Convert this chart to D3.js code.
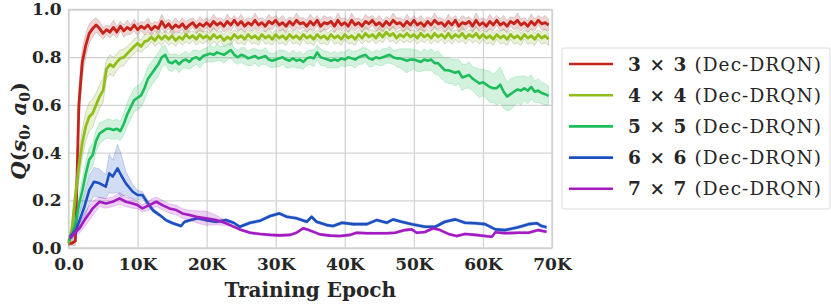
<!DOCTYPE html>
<html><head><meta charset="utf-8">
<script src="https://cdn.jsdelivr.net/npm/d3@7"></script>
<style>body{margin:0;background:#fff}svg{display:block}</style>
</head><body><svg id="c" width="831" height="304"></svg>
<script>
// ---------- data (epochs in thousands) ----------
const xTicks = [0,10,20,30,40,50,60,70];
const xTickLabels = ["0.0","10K","20K","30K","40K","50K","60K","70K"];
const yTicks = [0,0.2,0.4,0.6,0.8,1.0];
const yTickLabels = ["0.0","0.2","0.4","0.6","0.8","1.0"];
const seriesNames = ["3 \u00d7 3","4 \u00d7 4","5 \u00d7 5","6 \u00d7 6","7 \u00d7 7"];
const seriesColors = ["#c4221a","#90bd1c","#1dbd5c","#1c4fc0","#a31cc2"];

const epochs = [0,0.5,1,1.5,2,2.5,3,3.5,4,4.5,5,5.5,6,6.5,7,7.5,8,8.5,9,9.5,
 10,10.5,11,11.5,12,12.5,13,13.5,14,14.5,15,15.5,16,16.5,17,17.5,18,18.5,19,19.5,
 20,20.5,21,21.5,22,22.5,23,23.5,24,24.5,25,25.5,26,26.5,27,27.5,28,28.5,29,29.5,
 30,30.5,31,31.5,32,32.5,33,33.5,34,34.5,35,35.5,36,36.5,37,37.5,38,38.5,39,39.5,
 40,40.5,41,41.5,42,42.5,43,43.5,44,44.5,45,45.5,46,46.5,47,47.5,48,48.5,49,49.5,
 50,50.5,51,51.5,52,52.5,53,53.5,54,54.5,55,55.5,56,56.5,57,57.5,58,58.5,59,59.5,
 60,60.5,61,61.5,62,62.5,63,63.5,64,64.5,65,65.5,66,66.5,67,67.5,68,68.5,69,69.5];

const mean3 = [0.02,0.02,0.03,0.60,0.78,0.85,0.90,0.92,0.935,0.92,
 0.90,0.915,0.905,0.925,0.905,0.93,0.91,0.925,0.915,0.935,
 0.915,0.93,0.92,0.935,0.915,0.93,0.92,0.95,0.925,0.94,
 0.92,0.935,0.925,0.94,0.92,0.935,0.945,0.925,0.94,0.93,
 0.945,0.93,0.95,0.935,0.945,0.93,0.95,0.935,0.955,0.935,
 0.95,0.93,0.945,0.935,0.955,0.935,0.945,0.93,0.95,0.94,
 0.955,0.935,0.945,0.93,0.95,0.935,0.955,0.94,0.945,0.93,
 0.95,0.935,0.955,0.93,0.945,0.94,0.95,0.93,0.955,0.935,
 0.945,0.93,0.955,0.935,0.945,0.93,0.95,0.94,0.955,0.935,
 0.945,0.93,0.95,0.935,0.955,0.94,0.945,0.93,0.95,0.935,
 0.955,0.935,0.945,0.93,0.95,0.935,0.955,0.94,0.945,0.93,
 0.95,0.935,0.955,0.93,0.945,0.94,0.95,0.93,0.955,0.935,
 0.945,0.93,0.95,0.935,0.955,0.935,0.945,0.93,0.95,0.94,
 0.955,0.935,0.945,0.93,0.95,0.935,0.955,0.94,0.945,0.935];
const spread3 = [0.01,0.01,0.02,0.08,0.06,0.05,0.04,0.035,0.03,0.03,
 0.025,0.02,0.025,0.03,0.025,0.02,0.025,0.03,0.02,0.025,
 0.025,0.02,0.025,0.03,0.025,0.02,0.025,0.03,0.025,0.02,
 0.025,0.03,0.02,0.025,0.03,0.025,0.02,0.025,0.03,0.025,
 0.02,0.025,0.03,0.025,0.02,0.025,0.03,0.025,0.02,0.025,
 0.03,0.025,0.02,0.025,0.03,0.025,0.02,0.025,0.03,0.025,
 0.02,0.025,0.03,0.025,0.02,0.025,0.03,0.025,0.02,0.025,
 0.03,0.025,0.02,0.025,0.03,0.025,0.02,0.025,0.03,0.025,
 0.02,0.025,0.03,0.025,0.02,0.025,0.03,0.025,0.02,0.025,
 0.03,0.025,0.02,0.025,0.03,0.025,0.02,0.025,0.03,0.025,
 0.02,0.025,0.03,0.025,0.02,0.025,0.03,0.025,0.02,0.025,
 0.03,0.025,0.02,0.025,0.03,0.025,0.02,0.025,0.03,0.025,
 0.02,0.025,0.03,0.025,0.02,0.025,0.03,0.025,0.02,0.025,
 0.03,0.025,0.02,0.025,0.03,0.025,0.02,0.025,0.03,0.025];

const mean4 = [0.02,0.08,0.22,0.34,0.44,0.51,0.55,0.565,0.60,0.635,
 0.66,0.75,0.77,0.76,0.78,0.795,0.80,0.815,0.83,0.845,
 0.858,0.845,0.865,0.87,0.885,0.87,0.89,0.875,0.89,0.875,
 0.89,0.87,0.885,0.875,0.895,0.88,0.89,0.875,0.895,0.88,
 0.89,0.875,0.895,0.88,0.89,0.87,0.885,0.875,0.895,0.88,
 0.89,0.875,0.895,0.88,0.89,0.875,0.895,0.88,0.89,0.875,
 0.895,0.88,0.89,0.875,0.895,0.88,0.89,0.875,0.895,0.88,
 0.89,0.875,0.895,0.88,0.89,0.875,0.895,0.88,0.89,0.875,
 0.895,0.88,0.89,0.875,0.895,0.88,0.90,0.885,0.895,0.88,
 0.90,0.885,0.905,0.89,0.90,0.88,0.895,0.885,0.90,0.885,
 0.895,0.88,0.90,0.885,0.895,0.88,0.90,0.885,0.895,0.88,
 0.90,0.88,0.895,0.885,0.90,0.88,0.895,0.885,0.90,0.88,
 0.895,0.88,0.89,0.875,0.895,0.88,0.89,0.875,0.895,0.88,
 0.89,0.875,0.895,0.88,0.89,0.875,0.895,0.88,0.89,0.875];
const spread4 = [0.01,0.03,0.05,0.06,0.06,0.06,0.06,0.06,0.05,0.05,
 0.05,0.04,0.04,0.04,0.035,0.035,0.035,0.03,0.03,0.03,
 0.03,0.025,0.03,0.025,0.02,0.025,0.03,0.025,0.02,0.025,
 0.03,0.025,0.02,0.025,0.03,0.025,0.02,0.025,0.03,0.025,
 0.02,0.025,0.03,0.025,0.02,0.025,0.03,0.025,0.02,0.025,
 0.03,0.025,0.02,0.025,0.03,0.025,0.02,0.025,0.03,0.025,
 0.02,0.025,0.03,0.025,0.02,0.025,0.03,0.025,0.02,0.025,
 0.03,0.025,0.02,0.025,0.03,0.025,0.02,0.025,0.03,0.025,
 0.02,0.025,0.03,0.025,0.02,0.025,0.03,0.025,0.02,0.025,
 0.03,0.025,0.02,0.025,0.03,0.025,0.02,0.025,0.03,0.025,
 0.02,0.025,0.03,0.025,0.02,0.025,0.03,0.025,0.02,0.025,
 0.03,0.025,0.02,0.025,0.03,0.025,0.02,0.025,0.03,0.025,
 0.02,0.025,0.03,0.025,0.02,0.025,0.03,0.025,0.02,0.025,
 0.03,0.025,0.02,0.025,0.03,0.025,0.02,0.025,0.03,0.025];

const mean5 = [0.03,0.05,0.10,0.18,0.24,0.31,0.37,0.39,0.45,0.48,
 0.49,0.50,0.50,0.495,0.50,0.49,0.52,0.56,0.59,0.62,
 0.63,0.64,0.67,0.71,0.73,0.75,0.77,0.80,0.81,0.78,
 0.775,0.785,0.77,0.785,0.79,0.78,0.795,0.80,0.79,0.805,
 0.81,0.815,0.81,0.82,0.815,0.81,0.82,0.83,0.81,0.80,
 0.81,0.805,0.795,0.80,0.805,0.795,0.80,0.805,0.79,0.785,
 0.79,0.795,0.80,0.79,0.785,0.795,0.785,0.79,0.78,0.795,
 0.80,0.795,0.82,0.80,0.795,0.79,0.785,0.79,0.785,0.795,
 0.79,0.80,0.795,0.79,0.80,0.805,0.81,0.795,0.79,0.80,
 0.795,0.80,0.805,0.81,0.80,0.795,0.795,0.79,0.785,0.79,
 0.79,0.785,0.78,0.79,0.785,0.79,0.775,0.775,0.76,0.745,
 0.745,0.74,0.735,0.74,0.715,0.72,0.725,0.71,0.70,0.69,
 0.695,0.685,0.675,0.67,0.67,0.685,0.655,0.635,0.645,0.655,
 0.665,0.66,0.67,0.66,0.675,0.655,0.66,0.65,0.645,0.638];
const spread5 = [0.01,0.02,0.03,0.04,0.05,0.05,0.05,0.05,0.045,0.045,
 0.04,0.04,0.04,0.04,0.04,0.04,0.045,0.05,0.05,0.05,
 0.05,0.05,0.05,0.05,0.05,0.05,0.05,0.045,0.04,0.035,
 0.035,0.03,0.035,0.03,0.035,0.03,0.035,0.03,0.035,0.03,
 0.03,0.035,0.03,0.035,0.03,0.035,0.03,0.035,0.03,0.03,
 0.03,0.035,0.03,0.035,0.03,0.035,0.03,0.035,0.03,0.03,
 0.03,0.035,0.03,0.035,0.03,0.035,0.03,0.035,0.03,0.03,
 0.03,0.035,0.03,0.035,0.03,0.035,0.03,0.035,0.03,0.03,
 0.03,0.035,0.03,0.035,0.03,0.035,0.03,0.035,0.03,0.03,
 0.03,0.035,0.03,0.035,0.03,0.035,0.04,0.045,0.05,0.045,
 0.04,0.045,0.04,0.045,0.04,0.045,0.045,0.05,0.05,0.05,
 0.055,0.05,0.055,0.05,0.055,0.05,0.055,0.05,0.055,0.06,
 0.055,0.06,0.065,0.06,0.07,0.075,0.07,0.06,0.065,0.06,
 0.055,0.06,0.05,0.055,0.05,0.045,0.05,0.045,0.045,0.04];

const epochs6 = [0.2,1.1,2.3,3.0,3.7,4.5,5.4,5.9,6.4,7.1,
 7.6,8.3,9.3,10.0,10.7,11.5,12.2,13.2,14.1,15.1,
 16.3,16.8,17.7,18.7,19.9,21.4,22.8,23.9,24.8,26.3,
 27.7,29.2,30.5,31.6,33.0,34.5,35.2,35.9,37.4,38.3,
 39.6,41.2,43.2,44.6,46.1,47.0,48.2,49.7,51.6,53.1,
 54.5,56.0,57.4,58.9,60.3,61.8,63.2,65.1,66.6,67.8,68.5,69.2];
const mean6 = [0.047,0.075,0.173,0.243,0.278,0.271,0.257,0.313,0.299,0.334,
 0.306,0.271,0.236,0.222,0.222,0.187,0.159,0.138,0.117,0.104,
 0.092,0.110,0.117,0.125,0.117,0.110,0.117,0.106,0.089,0.106,
 0.114,0.134,0.145,0.131,0.125,0.110,0.131,0.110,0.096,0.092,
 0.106,0.100,0.100,0.117,0.106,0.120,0.110,0.100,0.089,0.089,
 0.110,0.120,0.106,0.104,0.100,0.078,0.075,0.087,0.100,0.104,0.092,0.087];
const spread6 = [0.01,0.02,0.05,0.06,0.06,0.06,0.05,0.08,0.07,0.10,
 0.09,0.05,0.03,0.02,0.015,0.012,0.01,0.006,0.006,0.006,
 0.006,0.006,0.006,0.006,0.006,0.006,0.006,0.006,0.006,0.006,
 0.006,0.006,0.006,0.006,0.006,0.006,0.006,0.006,0.006,0.006,
 0.006,0.006,0.006,0.006,0.006,0.006,0.006,0.006,0.006,0.006,
 0.006,0.006,0.006,0.006,0.006,0.006,0.006,0.006,0.006,0.006,0.006,0.006];

const epochs7 = [0.2,1.6,2.5,3.5,4.5,5.4,6.4,7.4,8.3,9.3,
 10.0,10.7,11.7,12.7,13.6,14.6,15.6,16.5,17.5,18.5,
 19.9,21.4,22.8,23.4,24.8,26.3,27.7,29.2,30.6,32.1,
 33.0,34.0,35.0,36.4,37.9,39.3,40.8,41.7,43.2,44.6,
 46.1,47.3,48.7,49.7,50.4,51.6,52.8,53.8,55.0,56.2,
 57.4,58.9,60.3,61.3,61.8,63.2,65.1,66.6,68.0,69.2];
const mean7 = [0.04,0.083,0.125,0.166,0.194,0.187,0.194,0.208,0.194,0.187,
 0.180,0.166,0.180,0.194,0.180,0.166,0.159,0.145,0.138,0.131,
 0.125,0.117,0.104,0.096,0.078,0.064,0.059,0.055,0.053,0.055,
 0.064,0.083,0.073,0.057,0.052,0.050,0.055,0.064,0.062,0.062,
 0.062,0.064,0.075,0.078,0.064,0.067,0.083,0.075,0.059,0.050,
 0.059,0.055,0.050,0.047,0.066,0.062,0.064,0.064,0.075,0.068];
const spread7 = [0.01,0.02,0.03,0.03,0.02,0.02,0.02,0.025,0.02,0.02,
 0.015,0.015,0.02,0.02,0.02,0.02,0.02,0.02,0.02,0.025,
 0.03,0.02,0.01,0.005,0.005,0.005,0.005,0.005,0.005,0.005,
 0.005,0.005,0.005,0.005,0.005,0.005,0.005,0.005,0.005,0.005,
 0.005,0.005,0.005,0.005,0.005,0.005,0.005,0.005,0.005,0.005,
 0.005,0.005,0.005,0.005,0.005,0.005,0.005,0.005,0.005,0.005];

// ---------- drawing ----------
const svg = d3.select("#c");
const L = 68.5, R = 552, T = 9.5, B = 248;
const x = d3.scaleLinear().domain([0,70]).range([L,R]);
const y = d3.scaleLinear().domain([0,1]).range([B,T]);
const textCol = "#262626";
const tickFont = "DejaVu Serif, serif";

svg.append("rect").attr("width",831).attr("height",304).attr("fill","#fff");

// grid
const gx = svg.append("g").attr("transform",`translate(0,${B})`)
  .call(d3.axisBottom(x).tickValues(xTicks).tickSize(-(B-T)).tickFormat((d,i)=>xTickLabels[i]).tickPadding(7));
const gy = svg.append("g").attr("transform",`translate(${L},0)`)
  .call(d3.axisLeft(y).tickValues(yTicks).tickSize(-(R-L)).tickFormat((d,i)=>yTickLabels[i]).tickPadding(7));
[gx,gy].forEach(g=>{
  g.select(".domain").remove();
  g.selectAll(".tick line").attr("stroke","#d4d4d4").attr("stroke-width",1.3);
  g.selectAll(".tick text").attr("fill",textCol).attr("font-family",tickFont)
    .attr("font-weight","bold").attr("font-size",17);
});
gx.selectAll(".tick text").attr("dy","0.9em");
gy.selectAll(".tick text").attr("dx","0em");

svg.append("rect").attr("x",L).attr("y",T).attr("width",R-L).attr("height",B-T)
  .attr("fill","none").attr("stroke","#d0d0d0").attr("stroke-width",1.3);

const plot = svg.append("g");
const series = [
  {ep:epochs, m:mean3, s:spread3, edge:"#8a8a8a", w:2.8},
  {ep:epochs, m:mean4, s:spread4, edge:"#8a8a8a", w:2.8},
  {ep:epochs, m:mean5, s:spread5, edge:null, w:2.6},
  {ep:epochs6, m:mean6, s:spread6, edge:null, w:2.6},
  {ep:epochs7, m:mean7, s:spread7, edge:null, w:2.6}
];
series.forEach((sr,k)=>{
  const col = seriesColors[k];
  const pts = sr.ep.map((e,i)=>({e, m:sr.m[i], s:sr.s[i]}));
  const area = d3.area().x(d=>x(d.e)).y0(d=>y(d.m-d.s)).y1(d=>y(d.m+d.s));
  plot.append("path").attr("d",area(pts)).attr("fill",col).attr("fill-opacity",0.2)
    .attr("stroke",sr.edge||col).attr("stroke-opacity",sr.edge?0.45:0.3).attr("stroke-width",0.7);
  const line = d3.line().x(d=>x(d.e)).y(d=>y(d.m));
  plot.append("path").attr("d",line(pts)).attr("fill","none").attr("stroke",col)
    .attr("stroke-width",sr.w).attr("stroke-linejoin","round");
});

// axis titles
svg.append("text").attr("x",(L+R)/2).attr("y",297).attr("text-anchor","middle")
  .attr("font-family",tickFont).attr("font-weight","bold").attr("font-size",20)
  .attr("fill",textCol).text("Training Epoch");

const yl = svg.append("text").attr("transform","translate(26,131) rotate(-90)")
  .attr("text-anchor","middle").attr("font-family",tickFont).attr("font-weight","bold")
  .attr("font-size",21).attr("fill",textCol);
yl.append("tspan").attr("font-style","italic").text("Q");
yl.append("tspan").text("(");
yl.append("tspan").attr("font-style","italic").text("s");
yl.append("tspan").attr("font-size",14).attr("dy",4).text("0");
yl.append("tspan").attr("dy",-4).text(", ");
yl.append("tspan").attr("font-style","italic").text("a");
yl.append("tspan").attr("font-size",14).attr("dy",4).text("0");
yl.append("tspan").attr("dy",-4).text(")");

// legend
const lg = svg.append("g");
lg.append("rect").attr("x",562).attr("y",48).attr("width",268).attr("height",161)
  .attr("fill","#fff").attr("stroke","#dcdcdc").attr("stroke-width",1).attr("rx",2);
seriesNames.forEach((n,i)=>{
  const yy = 64 + i*31.2;
  lg.append("line").attr("x1",569).attr("x2",613).attr("y1",yy).attr("y2",yy)
    .attr("stroke",seriesColors[i]).attr("stroke-width",2.6);
  const t = lg.append("text").attr("x",628).attr("y",yy+6.5).attr("font-family",tickFont)
    .attr("font-size",18.5).attr("fill",textCol)
    .attr("textLength",193).attr("lengthAdjust","spacing");
  t.append("tspan").attr("font-weight","bold").text(n);
  t.append("tspan").text(" (Dec-DRQN)");
});
</script></body></html>
